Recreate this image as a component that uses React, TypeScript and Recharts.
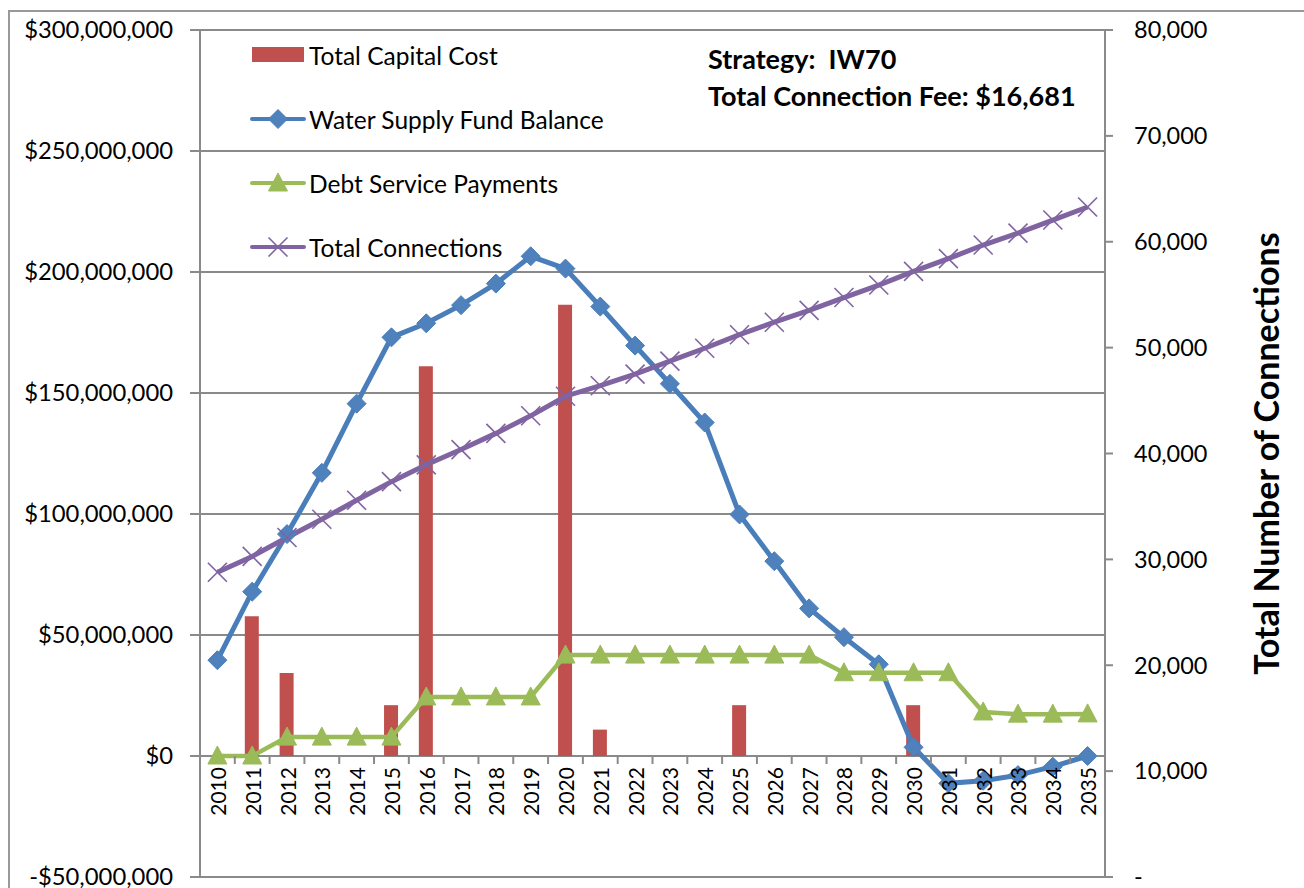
import React from 'react';
import { ComposedChart, Bar, Line, XAxis, YAxis, CartesianGrid, Legend } from 'recharts';

// ---------- data ----------
const years = [
  '2010', '2011', '2012', '2013', '2014', '2015', '2016', '2017', '2018', '2019',
  '2020', '2021', '2022', '2023', '2024', '2025', '2026', '2027', '2028', '2029',
  '2030', '2031', '2032', '2033', '2034', '2035',
];
// $ millions
const totalCapitalCost = [
  0, 57.7, 34.3, 0, 0, 21, 161.1, 0, 0, 0,
  186.5, 10.9, 0, 0, 0, 21, 0, 0, 0, 0,
  21, 0, 0, 0, 0, 0,
];
const waterSupplyFundBalance = [
  39.6, 67.9, 91.7, 117, 145.6, 173, 178.8, 186.3, 195.2, 206.5,
  201.4, 185.7, 169.6, 153.8, 137.8, 99.8, 80.5, 61, 49.1, 37.9,
  3.6, -11.3, -10.2, -7.9, -4.4, 0,
];
const debtServicePayments = [
  0, 0, 7.8, 7.8, 7.8, 7.8, 24.4, 24.4, 24.4, 24.4,
  41.7, 41.7, 41.7, 41.7, 41.7, 41.7, 41.7, 41.7, 34.4, 34.4,
  34.4, 34.4, 18.2, 17.3, 17.3, 17.4,
];
const totalConnections = [
  28780, 30280, 32070, 33790, 35580, 37340, 38930, 40370, 41900, 43560,
  45410, 46400, 47500, 48730, 49940, 51220, 52400, 53520, 54730, 55910,
  57200, 58410, 59690, 60820, 62050, 63280,
];
const leftTicks = [-50e6, 0, 50e6, 100e6, 150e6, 200e6, 250e6, 300e6];
const rightTicks = [0, 10000, 20000, 30000, 40000, 50000, 60000, 70000, 80000];
const seriesNames = ['Total Capital Cost', 'Water Supply Fund Balance', 'Debt Service Payments', 'Total Connections'];
const strategyLabel = 'Strategy:  IW70';
const feeLabel = 'Total Connection Fee: $16,681';
const rightAxisTitle = 'Total Number of Connections';

const data = years.map((y, i) => ({
  year: y,
  capital: totalCapitalCost[i] * 1e6,
  balance: waterSupplyFundBalance[i] * 1e6,
  debt: debtServicePayments[i] * 1e6,
  connections: totalConnections[i],
}));

// ---------- layout / style ----------
const W = 1304;
const H = 888;
const X_AXIS_H = 1;
const MARGIN = { top: 30, right: 0, bottom: 10, left: 0 };
const LEFT_W = 200;
const RIGHT_W = 199;
const LEFT_DOMAIN: [number, number] = [-50e6, 300e6];
const RIGHT_DOMAIN: [number, number] = [0, 80000];
const PLOT_TOP = MARGIN.top;
const PLOT_BOTTOM = H - MARGIN.bottom - X_AXIS_H;
const PLOT_LEFT = LEFT_W;
const PLOT_RIGHT = W - RIGHT_W;
const ZERO_Y = PLOT_TOP + ((LEFT_DOMAIN[1] - 0) / (LEFT_DOMAIN[1] - LEFT_DOMAIN[0])) * (PLOT_BOTTOM - PLOT_TOP);
const BAND = (PLOT_RIGHT - PLOT_LEFT) / years.length;

const FONT = 'Lato, "Open Sans", sans-serif';
const GRID = '#8a8a8a';
const RED = '#C0504D';
const BLUE = '#4A7EBB';
const BLUE_FILL = '#4F81BD';
const GREEN = '#9BBB59';
const PURPLE = '#8064A2';

const fmtMoney = (v: number) => {
  const s = Math.abs(v).toLocaleString('en-US');
  return (v < 0 ? '-$' : '$') + s;
};
const fmtCount = (v: number) => (v === 0 ? '-' : v.toLocaleString('en-US'));

// ---------- markers ----------
const Diamond = (props: any) => {
  const { cx, cy } = props;
  if (cx == null || cy == null) return <g />;
  const r = 9.5;
  return (
    <polygon
      points={`${cx},${cy - r} ${cx + r},${cy} ${cx},${cy + r} ${cx - r},${cy}`}
      fill={BLUE_FILL}
      stroke={BLUE}
      strokeWidth={1}
    />
  );
};
const Triangle = (props: any) => {
  const { cx, cy } = props;
  if (cx == null || cy == null) return <g />;
  return (
    <polygon
      points={`${cx},${cy - 10} ${cx + 9.5},${cy + 8} ${cx - 9.5},${cy + 8}`}
      fill={GREEN}
      stroke={GREEN}
      strokeWidth={1}
    />
  );
};
const Cross = (props: any) => {
  const { cx, cy } = props;
  if (cx == null || cy == null) return <g />;
  const r = 9.5;
  return (
    <g stroke={PURPLE} strokeWidth={1.6}>
      <line x1={cx - r} y1={cy - r} x2={cx + r} y2={cy + r} />
      <line x1={cx - r} y1={cy + r} x2={cx + r} y2={cy - r} />
    </g>
  );
};

// ---------- axis ticks ----------
const XTick = (props: any) => {
  const { x, index, payload } = props;
  const ty = ZERO_Y + 11;
  return (
    <g>
      <line x1={x - BAND / 2} x2={x - BAND / 2} y1={ZERO_Y} y2={ZERO_Y + 8} stroke={GRID} strokeWidth={2} />
      {index === years.length - 1 && (
        <line x1={x + BAND / 2} x2={x + BAND / 2} y1={ZERO_Y} y2={ZERO_Y + 8} stroke={GRID} strokeWidth={2} />
      )}
      <text
        x={x}
        y={ty}
        transform={`rotate(-90 ${x} ${ty})`}
        textAnchor="end"
        dominantBaseline="central"
        fontFamily={FONT}
        fontSize={21}
        fill="#000"
      >
        {payload.value}
      </text>
    </g>
  );
};

const RightTitle = (props: any) => {
  const vb = props.viewBox || {};
  const cx = (vb.x ?? PLOT_RIGHT) + 160;
  const cy = (vb.y ?? PLOT_TOP) + (vb.height ?? PLOT_BOTTOM - PLOT_TOP) / 2;
  return (
    <text
      x={cx}
      y={cy}
      transform={`rotate(-90 ${cx} ${cy})`}
      textAnchor="middle"
      dominantBaseline="central"
      fontFamily={FONT}
      fontWeight="bold"
      fontSize={34}
      fill="#000"
    >
      {rightAxisTitle}
    </text>
  );
};

// ---------- legend ----------
const LegendIcon = ({ i }: { i: number }) => {
  if (i === 0) {
    return (
      <svg width={56} height={20}>
        <rect x={2} y={2} width={52} height={15} fill={RED} />
      </svg>
    );
  }
  const color = i === 1 ? BLUE : i === 2 ? GREEN : PURPLE;
  return (
    <svg width={56} height={20}>
      <line x1={2} x2={54} y1={10} y2={10} stroke={color} strokeWidth={4} strokeLinecap="round" />
      {i === 1 && <Diamond cx={28} cy={10} />}
      {i === 2 && <Triangle cx={28} cy={10} />}
      {i === 3 && <Cross cx={28} cy={10} />}
    </svg>
  );
};

const renderLegend = () => (
  <div style={{ fontFamily: FONT, fontSize: 24.5, color: '#000' }}>
    {seriesNames.map((name, i) => (
      <div key={name} style={{ display: 'flex', alignItems: 'center', height: 64 }}>
        <LegendIcon i={i} />
        <span style={{ marginLeft: 3, whiteSpace: 'nowrap' }}>{name}</span>
      </div>
    ))}
  </div>
);

export default function App() {
  return (
    <div
      style={{
        position: 'absolute',
        left: 0,
        top: 0,
        width: W,
        height: H,
        overflow: 'hidden',
        background: '#fff',
      }}
    >
      <div
        style={{
          position: 'absolute',
          left: 8,
          top: 10,
          width: W + 50,
          height: H + 50,
          borderLeft: '2px solid #999',
          borderTop: '2px solid #999',
        }}
      />
      <div style={{ position: 'absolute', left: 0, top: 0 }}>
        <ComposedChart width={W} height={H} data={data} margin={MARGIN}>
          <CartesianGrid yAxisId="left" vertical={false} stroke={GRID} strokeWidth={2} />
          <XAxis
            dataKey="year"
            height={X_AXIS_H}
            interval={0}
            axisLine={false}
            tickLine={false}
            tick={<XTick />}
          />
          <YAxis
            yAxisId="left"
            orientation="left"
            width={LEFT_W}
            domain={LEFT_DOMAIN}
            ticks={leftTicks}
            interval={0}
            tickFormatter={fmtMoney}
            axisLine={{ stroke: GRID, strokeWidth: 2 }}
            tickLine={{ stroke: GRID, strokeWidth: 2 }}
            tickSize={10}
            tickMargin={17}
            tick={{ fontFamily: FONT, fontSize: 23.8, fill: '#000' }}
          />
          <YAxis
            yAxisId="right"
            orientation="right"
            width={RIGHT_W}
            domain={RIGHT_DOMAIN}
            ticks={rightTicks}
            interval={0}
            tickFormatter={fmtCount}
            axisLine={{ stroke: GRID, strokeWidth: 2 }}
            tickLine={{ stroke: GRID, strokeWidth: 2 }}
            tickSize={8}
            tickMargin={21}
            tick={{ fontFamily: FONT, fontSize: 23.5, fill: '#000', textAnchor: 'start' }}
            label={<RightTitle />}
          />
          <Legend
            layout="vertical"
            align="center"
            verticalAlign="middle"
            content={renderLegend}
            wrapperStyle={{ left: 250, top: 23, width: 420, height: 256 }}
          />
          <Bar yAxisId="left" dataKey="capital" name={seriesNames[0]} fill={RED} barSize={14} isAnimationActive={false} />
          <Line
            yAxisId="left"
            type="linear"
            dataKey="balance"
            name={seriesNames[1]}
            stroke={BLUE}
            strokeWidth={5}
            dot={(p: any) => <Diamond key={`d${p.index}`} {...p} />}
            activeDot={false}
            isAnimationActive={false}
          />
          <Line
            yAxisId="left"
            type="linear"
            dataKey="debt"
            name={seriesNames[2]}
            stroke={GREEN}
            strokeWidth={4.5}
            dot={(p: any) => <Triangle key={`t${p.index}`} {...p} />}
            activeDot={false}
            isAnimationActive={false}
          />
          <Line
            yAxisId="right"
            type="linear"
            dataKey="connections"
            name={seriesNames[3]}
            stroke={PURPLE}
            strokeWidth={5}
            dot={(p: any) => <Cross key={`c${p.index}`} {...p} />}
            activeDot={false}
            isAnimationActive={false}
          />
        </ComposedChart>
      </div>
      <div
        style={{
          position: 'absolute',
          left: 708,
          top: 40,
          fontFamily: FONT,
          fontWeight: 'bold',
          fontSize: 27,
          lineHeight: '37px',
          color: '#000',
          whiteSpace: 'pre',
        }}
      >
        <div>{strategyLabel}</div>
        <div>{feeLabel}</div>
      </div>
    </div>
  );
}
